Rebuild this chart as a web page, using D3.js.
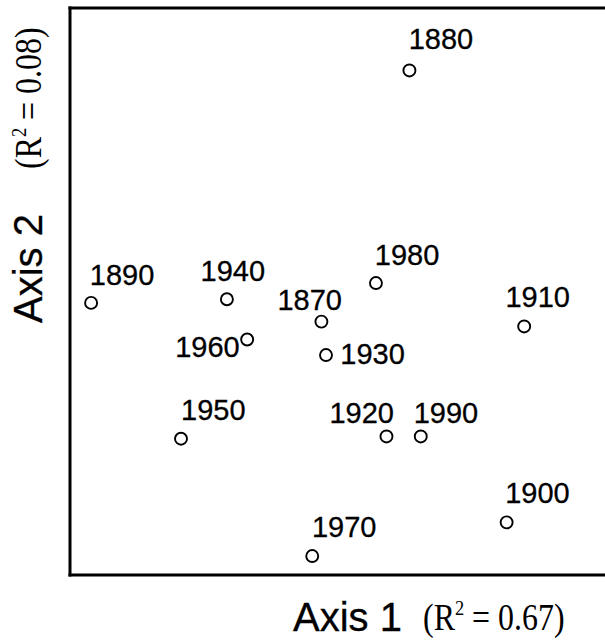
<!DOCTYPE html>
<html>
<head>
<meta charset="utf-8">
<script src="https://cdn.jsdelivr.net/npm/d3@7"></script>
<style>
  html, body { margin: 0; padding: 0; background: #fff; }
  svg { display: block; }
</style>
</head>
<body>
<svg id="chart" width="605" height="641"></svg>
<script>
// Ordination scores per decade (site scores on the first two axes)
const decades = ["1870", "1880", "1890", "1900", "1910", "1920", "1930",
                 "1940", "1950", "1960", "1970", "1980", "1990"];
const axis1 = [-0.067, 0.259, -0.920, 0.619, 0.684, 0.174, -0.050,
               -0.417, -0.587, -0.342, -0.101, 0.135, 0.301];
const axis2 = [-0.108, 0.778, -0.042, -0.816, -0.125, -0.513, -0.226,
               -0.029, -0.521, -0.171, -0.935, 0.028, -0.513];
const axisNames = ["Axis 1", "Axis 2"];
const axisR2 = ["0.67", "0.08"];

// Hand-placed label offsets (px from each point: [dx, dy])
const labelOffsets = {
  "1870": [-44, -11.7], "1880": [-0.8, -21], "1890": [-1.3, -18],
  "1900": [-1.4, -18.9], "1910": [-18.8, -19.1], "1920": [-57, -13.8],
  "1930": [14.3, 9.1], "1940": [-26.3, -18.6], "1950": [0, -18.6],
  "1960": [-72, 17.5], "1970": [-0.3, -19], "1980": [-1.2, -18.2],
  "1990": [-7.1, -13.8]
};

const points = decades.map((d, i) => ({ name: d, x: axis1[i], y: axis2[i] }));

const svg = d3.select("#chart");
const x = d3.scaleLinear().domain([-1, 1]).range([69.5, 609.5]);
const y = d3.scaleLinear().domain([-1, 1]).range([574.5, 7.5]);

const sans = "'Liberation Sans', Arial, Helvetica, sans-serif";
const serif = "'Liberation Serif', 'Times New Roman', serif";

// Plot frame: tickless axes, heavy strokes
function frame(g) {
  g.selectAll(".tick").remove();
  g.select(".domain").attr("stroke", "#000").attr("stroke-width", 3)
    .attr("stroke-linecap", "square");
}
svg.append("g").attr("transform", `translate(0,${y(-1)})`)
  .call(d3.axisBottom(x).tickValues([]).tickSizeOuter(0)).call(frame);
svg.append("g").attr("transform", `translate(0,${y(1)})`)
  .call(d3.axisTop(x).tickValues([]).tickSizeOuter(0)).call(frame);
svg.append("g").attr("transform", `translate(${x(-1)},0)`)
  .call(d3.axisLeft(y).tickValues([]).tickSizeOuter(0)).call(frame);

// Points
svg.append("g").selectAll("circle").data(points).join("circle")
  .attr("cx", d => x(d.x))
  .attr("cy", d => y(d.y))
  .attr("r", 6)
  .attr("fill", "none")
  .attr("stroke", "#000")
  .attr("stroke-width", 1.9);

// Point labels
svg.append("g").selectAll("text").data(points).join("text")
  .attr("x", d => x(d.x) + labelOffsets[d.name][0])
  .attr("y", d => y(d.y) + labelOffsets[d.name][1])
  .attr("font-family", sans)
  .attr("font-size", 29)
  .attr("fill", "#000")
  .attr("stroke", "#000")
  .attr("stroke-width", 0.3)
  .text(d => d.name);

// Axis titles with explained variance (serif part set condensed)
function title(g, name, r2, gap) {
  g.append("text")
    .attr("x", 0).attr("y", 0)
    .attr("font-family", sans).attr("font-size", 40).attr("fill", "#000")
    .attr("stroke", "#000").attr("stroke-width", 0.3)
    .text(name);
  const t = g.append("g").attr("transform", `translate(${gap},0) scale(0.84,1)`)
    .append("text")
    .attr("x", 0).attr("y", -1)
    .attr("font-family", serif).attr("font-size", 38).attr("fill", "#000");
  t.append("tspan").text("(R");
  t.append("tspan").attr("font-size", 22).attr("dy", -15).text("2");
  t.append("tspan").attr("dy", 15).text(" = " + r2 + ")");
}
svg.append("g").attr("transform", "translate(293,631)")
  .call(title, axisNames[0], axisR2[0], 130);
svg.append("g").attr("transform", "translate(42,323) rotate(-90)")
  .call(title, axisNames[1], axisR2[1], 154);
</script>
</body>
</html>
